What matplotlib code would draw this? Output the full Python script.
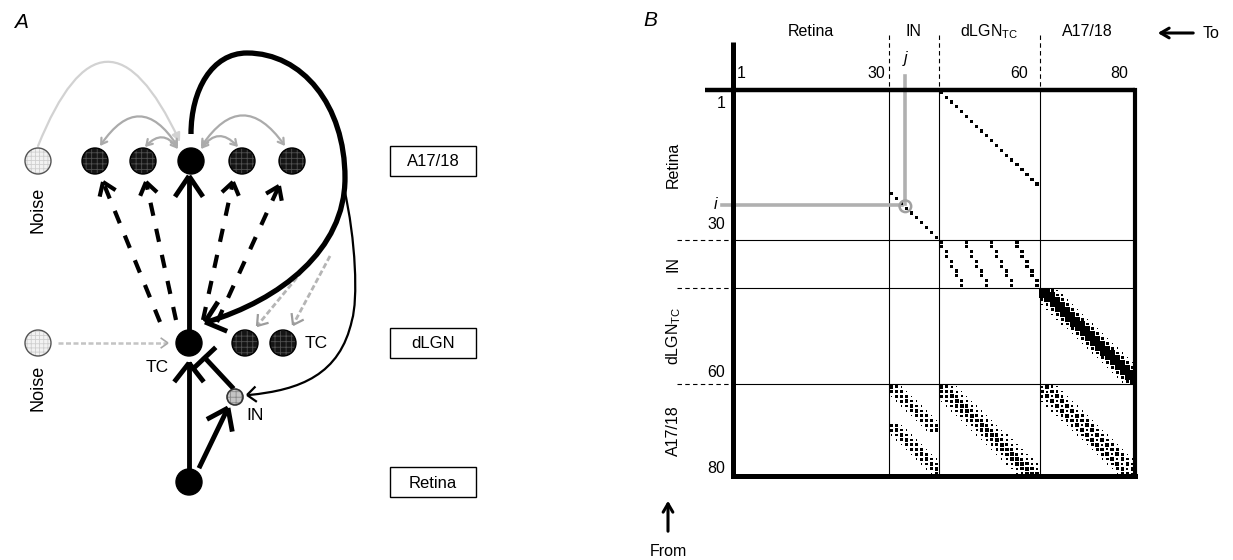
import matplotlib
matplotlib.use('Agg')
import matplotlib.pyplot as plt
import numpy as np
from matplotlib.patches import Circle, Rectangle, FancyArrowPatch, PathPatch
from matplotlib.path import Path

plt.rcParams['font.family'] = ['Liberation Sans', 'DejaVu Sans']
plt.rcParams['hatch.linewidth'] = 0.6

# ------------------------------------------------------------------ data (panel B)
group_names = ['Retina', 'IN', 'dLGN$_\\mathregular{TC}$', 'A17/18']
group_sizes = [31, 10, 20, 19]
top_tick_labels = ['1', '30', '60', '80']
left_tick_labels = ['1', '30', '60', '80']

# one-to-one diagonals: (first presynaptic, first postsynaptic, count), weight
retina_to_in = (22, 32, 10)
retina_to_tc = (1, 42, 20)
point_weight = 0.62

# IN -> TC: four stripes (first TC column of each), 2 IN rows per TC column
in_to_tc_starts = [42, 47, 52, 57]
in_rows_per_col = 2

# banded projections: (first row, first col, rows, last col allowed), profile over offsets
a17_to_in_bands = [(62, 32, 10, 41), (70, 32, 11, 41)]
a17_to_in_profile = [0.3, 0.55, 0.7, 0.5, 0.3]
a17_to_tc_band = (62, 42, 19, 61)
a17_to_tc_profile = [0.25, 0.45, 0.65, 0.75, 0.6, 0.4, 0.25]
a17_to_a17_band = (62, 62, 19, 80)
a17_to_a17_profile = [0.25, 0.5, 0.75, 0.4, 0.75, 0.5, 0.25]
tc_to_a17_band = (42, 62, 20, 80)
tc_to_a17_profile = [0.25, 0.55, 1.0, 1.0, 1.0, 0.55, 0.25]

N = sum(group_sizes)
Wm = np.zeros((N + 1, N + 1))


def add_diag(spec, w):
    r0, c0, n = spec
    for k in range(n):
        Wm[r0 + k, c0 + k] = w


def add_band(spec, profile):
    r0, c0, n, cmax = spec
    half = len(profile) // 2
    for k in range(n):
        for j, w in enumerate(profile):
            c = c0 + k + j - half
            if c0 <= c <= cmax:
                Wm[r0 + k, c] = max(Wm[r0 + k, c], w)


add_diag(retina_to_in, point_weight)
add_diag(retina_to_tc, point_weight)
in_start = group_sizes[0] + 1
for s in in_to_tc_starts:
    for k in range(group_sizes[1]):
        Wm[in_start + k, s + k // in_rows_per_col] = point_weight
for b in a17_to_in_bands:
    add_band(b, a17_to_in_profile)
add_band(a17_to_tc_band, a17_to_tc_profile)
add_band(a17_to_a17_band, a17_to_a17_profile)
add_band(tc_to_a17_band, tc_to_a17_profile)

# ------------------------------------------------------------------ figure
fig = plt.figure(figsize=(12.33, 5.6), dpi=100)
ax = fig.add_axes([0, 0, 1, 1])
ax.set_xlim(0, 1233)
ax.set_ylim(560, 0)
ax.axis('off')
ax.patch.set_visible(False)

FS = 11.5

# ------------------------------------------------------------------ panel A
ax.text(14, 22, 'A', fontsize=15, style='italic', ha='left', va='center')


def neuron(x, y, r, fill, hatch_col=None, hatch=None, edge='black', lw=1):
    if hatch:
        ax.add_patch(Circle((x, y), r, fc=fill, ec=hatch_col, lw=0, hatch=hatch, zorder=5))
        ax.add_patch(Circle((x, y), r, fc='none', ec=edge, lw=lw, zorder=5.1))
    else:
        ax.add_patch(Circle((x, y), r, fc=fill, ec=edge, lw=lw, zorder=5))


a17_x = [95, 143, 191, 242, 292]
a17_y = 161
R = 13
for i, x in enumerate(a17_x):
    if i == 2:
        neuron(x, a17_y, R, 'black')
    else:
        neuron(x, a17_y, R, '#151515', '#505050', '+++')
for ny in (161, 343):
    neuron(38, ny, R, '#f2f2f2', '#cfcfcf', '++++', edge='#555555')
neuron(189, 343, R, 'black')
for x in (245, 283):
    neuron(x, 343, R, '#151515', '#505050', '+++')
neuron(235, 397, 8, '#c4c4c4', '#8a8a8a', '+++', edge='#333333', lw=1.2)
neuron(189, 482, R, 'black')

ax.text(38, 210, 'Noise', rotation=90, fontsize=13, ha='center', va='center')
ax.text(38, 388, 'Noise', rotation=90, fontsize=13, ha='center', va='center')
ax.text(316, 344, 'TC', fontsize=12.5, ha='center', va='center')
ax.text(157, 368, 'TC', fontsize=12.5, ha='center', va='center')
ax.text(255, 415, 'IN', fontsize=12.5, ha='center', va='center')

for label, cy in (('A17/18', 161), ('dLGN', 343), ('Retina', 482)):
    ax.add_patch(Rectangle((390, cy - 15), 86, 30, fc='white', ec='black', lw=1))
    ax.text(433, cy + 1, label, fontsize=12, ha='center', va='center')


def chevron(tip, back, length, half_angle, lw, color='black'):
    tx, ty = tip
    bx, by = back
    ang = np.arctan2(by - ty, bx - tx)
    for s in (1, -1):
        a = ang + s * np.radians(half_angle)
        ax.plot([tx, tx + length * np.cos(a)], [ty, ty + length * np.sin(a)],
                color=color, lw=lw, solid_capstyle='butt', zorder=4)


# retina -> TC
ax.plot([189, 189], [468, 364], color='black', lw=3.5, zorder=4)
chevron((189, 363), (189, 400), 24, 38, 3.5)
# retina -> IN
ax.plot([200, 227], [466, 410], color='black', lw=3.5, zorder=4)
chevron((228, 408), (200, 466), 24, 36, 3.5)
# IN -| TC
ax.plot([232, 205], [387, 358], color='black', lw=3.5, zorder=4)
ax.plot([196, 214], [366, 349], color='black', lw=3.5, zorder=4)
# noise -> TC (grey)
ax.plot([58, 166], [343, 343], color='#c4c4c4', lw=1.8, ls=(0, (2, 1)), zorder=3)
chevron((168, 343), (140, 343), 9, 35, 1.2, '#a8a8a8')
# TC -> A17 centre
ax.plot([189, 189], [330, 178], color='black', lw=3.5, zorder=4)
chevron((189, 176), (189, 220), 25, 34, 3.5)
# TC -> other A17 neurons (dashed)
dash_starts = [(160, 322), (176, 320), (203, 320), (217, 322)]
dash_tips = [(103, 182), (146, 182), (233, 182), (279, 186)]
for st, tp in zip(dash_starts, dash_tips):
    ax.plot([st[0], tp[0]], [st[1], tp[1]], color='black', lw=3,
            ls=(0, (3.2, 3.2)), zorder=4)
    chevron(tp, st, 15, 35, 3)

# thick feedback loop A17 centre -> TC
loop = Path([(191, 134), (191, 90), (212, 53), (247, 53),
             (302, 53), (345, 105), (345, 178),
             (345, 250), (280, 300), (207, 322)],
            [Path.MOVETO, Path.CURVE4, Path.CURVE4, Path.CURVE4,
             Path.CURVE4, Path.CURVE4, Path.CURVE4,
             Path.CURVE4, Path.CURVE4, Path.CURVE4])
ax.add_patch(PathPatch(loop, fc='none', ec='black', lw=3.8, zorder=4))
chevron((205, 322), (250, 308), 24, 40, 3.5)
# thin loop to IN
thin = Path([(344, 188), (356, 240), (358, 300), (352, 320),
             (340, 375), (300, 390), (249, 395)],
            [Path.MOVETO, Path.CURVE4, Path.CURVE4, Path.CURVE4,
             Path.CURVE4, Path.CURVE4, Path.CURVE4])
ax.add_patch(PathPatch(thin, fc='none', ec='black', lw=1.6, zorder=4))
chevron((247, 395), (280, 392), 12, 40, 1.6)
# grey feedback to neighbouring TC
for (s, t) in (((318, 252), (257, 326)), ((330, 256), (293, 325))):
    ax.plot([s[0], t[0]], [s[1], t[1]], color='#b5b5b5', lw=2, ls=(0, (2, 1)), zorder=3)
    chevron(t, s, 12, 35, 1.6, '#9c9c9c')


# grey lateral arcs in A17
def arc(p0, p1, rad, color, lw, style):
    ax.add_patch(FancyArrowPatch(p0, p1, connectionstyle=f'arc3,rad={rad}',
                                 arrowstyle=style, color=color, lw=lw,
                                 shrinkA=0, shrinkB=0, zorder=3))


arc((38, 146), (180, 142), -1.15, '#d2d2d2', 1.6, '-|>,head_length=5,head_width=2.5')
arc((100, 146), (178, 147), -0.75, '#ababab', 1.6, '<->,head_length=4,head_width=2.5')
arc((145, 147), (178, 149), -0.6, '#ababab', 1.6, '<->,head_length=4,head_width=2.5')
arc((285, 146), (201, 147), 0.72, '#ababab', 1.6, '<->,head_length=4,head_width=2.5')
arc((238, 147), (201, 149), 0.6, '#ababab', 1.6, '<->,head_length=4,head_width=2.5')

# ------------------------------------------------------------------ panel B
ax.text(643, 20, 'B', fontsize=15, style='italic', ha='left', va='center')
mx = fig.add_axes([733 / 1233, 1 - 476 / 560, 402 / 1233, 386 / 560])
mx.set_xlim(0.5, N + 0.5)
mx.set_ylim(N + 0.5, 0.5)
mx.axis('off')
mx.patch.set_visible(False)

rows, cols = np.nonzero(Wm)
w = Wm[rows, cols]
mx.scatter(cols, rows, s=(3.7 * w) ** 2, marker='s', c='black', linewidths=0, zorder=3)

cum = np.cumsum(group_sizes)
bounds = cum[:-1] + 0.5
starts = np.concatenate([[1], cum[:-1] + 1])
centres = (starts + cum) / 2
for b in bounds:
    mx.plot([b, b], [0.5, N + 0.5], color='black', lw=0.8, zorder=2)
    mx.plot([0.5, N + 0.5], [b, b], color='black', lw=0.8, zorder=2)
    mx.plot([b, b], [-10.8, 0.5], color='black', lw=0.8, ls=(0, (4, 3)), clip_on=False)
    mx.plot([-10.6, 0.5], [b, b], color='black', lw=0.8, ls=(0, (4, 3)), clip_on=False)

# frame
mx.plot([-5.1, N + 0.5], [0.5, 0.5], color='black', lw=3.2, clip_on=False, solid_capstyle='butt', zorder=4)
mx.plot([0.5, 0.5], [-9.5, N + 0.5], color='black', lw=3.6, clip_on=False, solid_capstyle='butt', zorder=4)
mx.plot([N + 0.5, N + 0.5], [0.5, N + 0.5], color='black', lw=3, clip_on=False, zorder=4)
mx.plot([0.5, N + 0.5], [N + 0.5, N + 0.5], color='black', lw=3.6, clip_on=False, zorder=4)

# group labels
for name, c in zip(group_names, centres):
    mx.text(c, -11.6, name, fontsize=FS, ha='center', va='center', clip_on=False)
    mx.text(-11.4, c, name, fontsize=FS, rotation=90, ha='center', va='center', clip_on=False)

# tick labels
top_x = [1.2, 30.8, 59.3, 79.2]
for lab, x in zip(top_tick_labels, top_x):
    mx.text(x, -2.9, lab, fontsize=FS, ha='left' if lab == '1' else 'right', va='center', clip_on=False)
left_y = [3.2, 28.4, 59.1, 79.0]
for lab, y in zip(left_tick_labels, left_y):
    mx.text(-1.0, y, lab, fontsize=FS, ha='right', va='center', clip_on=False)

# i / j guide
ci, cj = 25, 35
mx.plot([-1.6, cj - 0.8], [ci - 0.6, ci - 0.6], color='#b0b0b0', lw=2.6, clip_on=False, zorder=2.5)
mx.plot([cj - 0.3, cj - 0.3], [-2.4, ci - 0.9], color='#b0b0b0', lw=2.6, clip_on=False, zorder=2.5)
mx.scatter([cj - 0.2], [ci - 0.4], s=70, marker='o', facecolors='none', edgecolors='#a0a0a0',
           linewidths=1.8, zorder=4)
mx.text(-2.9, ci - 0.8, 'i', fontsize=FS, style='italic', ha='center', va='center', clip_on=False)
mx.text(34.8, -6.0, 'j', fontsize=FS, style='italic', ha='center', va='center', clip_on=False)

# To / From arrows
ax.annotate('', xy=(1155, 33), xytext=(1196, 33),
            arrowprops=dict(arrowstyle='->,head_length=0.6,head_width=0.35', lw=2.2, color='black'))
ax.text(1203, 33, 'To', fontsize=FS, ha='left', va='center')
ax.annotate('', xy=(668, 498), xytext=(668, 534),
            arrowprops=dict(arrowstyle='->,head_length=0.6,head_width=0.35', lw=2.2, color='black'))
ax.text(668, 551, 'From', fontsize=FS, ha='center', va='center')

fig.savefig('out.png', dpi=100)
